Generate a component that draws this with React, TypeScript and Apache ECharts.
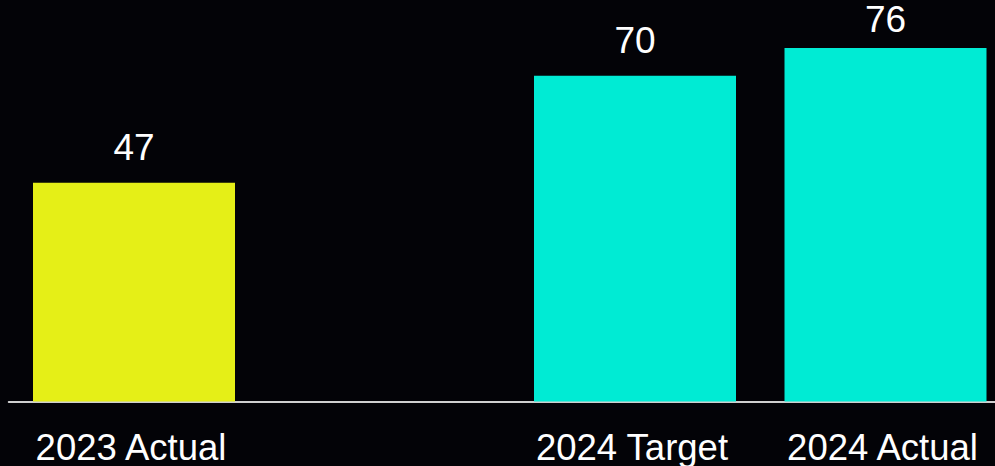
import React, { useEffect, useRef } from "react";
import * as echarts from "echarts";

const categories = ["2023 Actual", "", "2024 Target", "2024 Actual"];
const values: (number | null)[] = [47, null, 70, 76];
const barColors = ["#E5EF17", "#00EBD4", "#00EBD4", "#00EBD4"];
const labelDistances = [17, 17, 17, 10];

export default function App() {
  const ref = useRef<HTMLDivElement>(null);
  useEffect(() => {
    document.body.style.margin = "0";
    document.body.style.background = "#030307";
    const chart = echarts.init(ref.current!, null, { renderer: "svg" });
    chart.setOption({
      animation: false,
      backgroundColor: "#030307",
      grid: {
        left: 8.75,
        width: 1002,
        top: 0,
        bottom: 64.5,
        containLabel: false,
        outerBoundsMode: "none",
      },
      xAxis: {
        type: "category",
        data: categories,
        axisLine: { show: true, lineStyle: { color: "#cfcfcf", width: 2 } },
        axisTick: { show: false },
        axisLabel: {
          color: "#ffffff",
          fontSize: 36.5,
          fontFamily: "Liberation Sans, Arial, Helvetica, sans-serif",
          margin: 27,
          interval: 0,
          padding: [0, 6, 0, 0],
        },
      },
      yAxis: {
        type: "value",
        min: 0,
        max: 86.3,
        show: false,
        splitLine: { show: false },
      },
      series: [
        {
          type: "bar",
          barWidth: 202,
          data: values.map((v, i) => ({
            value: v,
            itemStyle: { color: barColors[i] },
            label: { distance: labelDistances[i] },
          })),
          label: {
            show: true,
            position: "top",
            color: "#ffffff",
            fontSize: 37,
            lineHeight: 37,
            fontFamily: "Liberation Sans, Arial, Helvetica, sans-serif",
          },
        },
      ],
    });
    return () => chart.dispose();
  }, []);
  return (
    <div
      ref={ref}
      style={{ position: "absolute", left: 0, top: 0, width: 995, height: 466 }}
    />
  );
}
